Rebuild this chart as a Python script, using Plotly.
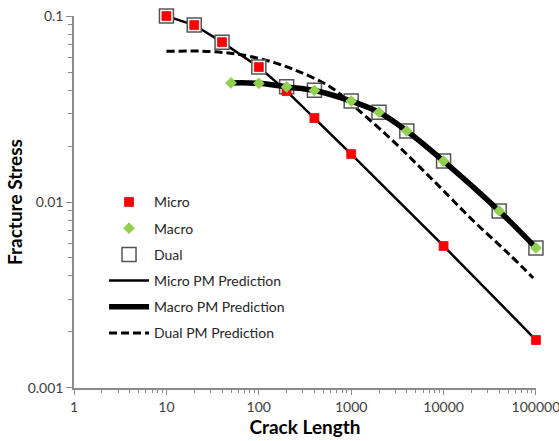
import plotly.graph_objects as go

# ---- data ----
micro_x = [10, 20, 40, 100, 200, 400, 1000, 10000, 100000]
micro_y = [0.1, 0.0895, 0.0724, 0.0532, 0.0395, 0.0283, 0.0181, 0.0058, 0.00181]

macro_x = [50, 100, 200, 400, 1000, 2000, 4000, 10000, 40000, 100000]
macro_y = [0.0437, 0.0435, 0.0416, 0.0398, 0.0349, 0.0304, 0.0241, 0.0166, 0.00895, 0.00566]

dual_x = [10, 20, 40, 100, 200, 400, 1000, 2000, 4000, 10000, 40000, 100000]
dual_y = [0.1, 0.0895, 0.0724, 0.0532, 0.0417, 0.0399, 0.0349, 0.0304, 0.0241, 0.0166, 0.00895, 0.00566]

micro_pm_x = micro_x
micro_pm_y = micro_y
macro_pm_x = macro_x
macro_pm_y = macro_y
dual_pm_x = [10, 30, 70, 150, 280, 590, 1050, 2400, 5000, 10000, 20000, 50000, 93500]
dual_pm_y = [0.0646, 0.0645, 0.0615, 0.0560, 0.0500, 0.0417, 0.0330, 0.0230, 0.0162, 0.0115, 0.0081, 0.0053, 0.0039]

x_ticks = [1, 10, 100, 1000, 10000, 100000]
x_tick_text = ["1", "10", "100", "1000", "10000", "100000"]
y_ticks = [0.001, 0.01, 0.1]
y_tick_text = ["0.001", "0.01", "0.1"]

x_minor = [m * 10 ** d for d in range(0, 5) for m in range(2, 10)]
y_minor = [m * 10 ** d for d in (-3, -2) for m in range(2, 10)]

FONT = "Lato"
AXIS_COLOR = "#8a8a8a"

fig = go.Figure()

fig.add_trace(go.Scatter(x=micro_pm_x, y=micro_pm_y, mode="lines",
                         line=dict(color="black", width=2.5),
                         name="Micro PM Prediction", legendrank=4, legendgroup="d",
                         cliponaxis=False))
fig.add_trace(go.Scatter(x=dual_pm_x, y=dual_pm_y, mode="lines", line_shape="spline",
                         line=dict(color="black", width=3, dash="8px,4px"),
                         name="Dual PM Prediction", legendrank=6, legendgroup="f",
                         cliponaxis=False))
fig.add_trace(go.Scatter(x=dual_x, y=dual_y, mode="markers",
                         marker=dict(symbol="square", size=14, color="white",
                                     line=dict(color="#555555", width=1.5)),
                         name="Dual", legendrank=3, legendgroup="c",
                         cliponaxis=False))
fig.add_trace(go.Scatter(x=micro_x, y=micro_y, mode="markers",
                         marker=dict(symbol="square", size=9, color="#ff0000",
                                     line=dict(color="#e01010", width=0.8)),
                         name="Micro", legendrank=1, legendgroup="a",
                         cliponaxis=False))
fig.add_trace(go.Scatter(x=macro_pm_x, y=macro_pm_y, mode="lines", line_shape="spline",
                         line=dict(color="black", width=5.5),
                         name="Macro PM Prediction", legendrank=5, legendgroup="e",
                         cliponaxis=False))
fig.add_trace(go.Scatter(x=macro_x, y=macro_y, mode="markers",
                         marker=dict(symbol="diamond", size=9, color="#92d050",
                                     line=dict(width=0)),
                         name="Macro", legendrank=2, legendgroup="b",
                         cliponaxis=False))

fig.update_layout(
    width=559, height=441,
    margin=dict(l=74, r=23, t=16, b=53),
    paper_bgcolor="white", plot_bgcolor="white",
    font=dict(family=FONT, size=14, color="#404040"),
    showlegend=True,
    legend=dict(x=0.065, y=0.542, xanchor="left", yanchor="top",
                bgcolor="rgba(0,0,0,0)", font=dict(family=FONT, size=14, color="#262626"),
                tracegroupgap=5, itemwidth=40, traceorder="grouped"),
    xaxis=dict(type="log", range=[-0.0005, 5.0005], showgrid=False, zeroline=False,
               showline=True, linecolor=AXIS_COLOR, linewidth=1.5,
               ticks="outside", ticklen=5, tickcolor=AXIS_COLOR, tickwidth=1.2,
               tickvals=x_ticks, ticktext=x_tick_text, ticklabeloverflow="allow",
               tickfont=dict(family=FONT, size=14, color="#404040"),
               minor=dict(tickvals=x_minor, ticks="outside", ticklen=3,
                          tickcolor=AXIS_COLOR, tickwidth=1, showgrid=False),
               title=dict(text="<b>Crack Length</b>", standoff=5,
                          font=dict(family=FONT, size=19, color="black")),
               automargin=False),
    yaxis=dict(type="log", range=[-3.0005, -0.9995], showgrid=False, zeroline=False,
               showline=True, linecolor=AXIS_COLOR, linewidth=1.5,
               ticks="outside", ticklen=6, tickcolor=AXIS_COLOR, tickwidth=1.2,
               tickvals=y_ticks, ticktext=y_tick_text, ticklabeloverflow="allow",
               tickfont=dict(family=FONT, size=14, color="#404040"),
               minor=dict(tickvals=y_minor, ticks="outside", ticklen=4,
                          tickcolor=AXIS_COLOR, tickwidth=1, showgrid=False),
               title=dict(text="<b>Fracture Stress</b>", standoff=0,
                          font=dict(family=FONT, size=19, color="black")),
               automargin=False),
)

fig.write_html("out.html")
